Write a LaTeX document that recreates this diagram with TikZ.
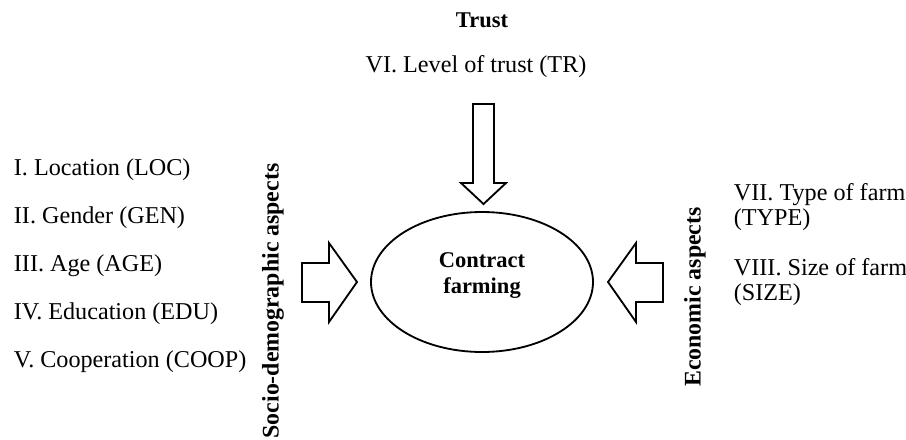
\documentclass[tikz,border=0pt]{standalone}
\usepackage{fontspec}
\setmainfont{Liberation Serif}
\usetikzlibrary{shapes.geometric}
\begin{document}
\begin{tikzpicture}[x=0.6pt, y=-0.6pt, line width=1.1pt,
    item/.style={anchor=base west, inner sep=0pt, align=left, font=\fontsize{14.5}{15}\selectfont},
    head/.style={inner sep=0pt, align=center, font=\fontsize{13.5}{15.6}\selectfont\bfseries},
    aspect/.style={inner sep=0pt, rotate=90, font=\fontsize{14.3}{16}\selectfont\bfseries}]
    \useasboundingbox (0,0) rectangle (906,439);

    \node (trust) at (482, 20) [head] {Trust};
    \node (tr) at (476, 72) [item, anchor=base] {VI. Level of trust (TR)};
    \node (cf) at (482, 282) [draw, shape=ellipse, inner sep=0pt,
        minimum width=133.2pt, minimum height=84pt] {};
    \node (cftext) at (482, 276) [head] {Contract\\farming};

    \foreach \txt [count=\i] in {I. Location (LOC), II. Gender (GEN), III. Age (AGE),
        IV. Education (EDU), V. Cooperation (COOP)}
        \node (l\i) at (13, 127+48*\i) [item] {\txt};

    \node (socio) at (273, 301) [aspect] {Socio-demographic aspects};
    \node (econ) at (695, 297) [aspect] {Economic aspects};

    \node (type) at (733, 225) [item] {VII. Type of farm\\(TYPE)};
    \node (size) at (733, 300) [item] {VIII. Size of farm\\(SIZE)};

    % block arrows
    \draw (473,104) -- (494,104) -- (494,183) -- (506,183) -- (483.5,204)
        -- (461,183) -- (473,183) -- cycle;
    \draw (302,263) -- (329,263) -- (329,243) -- (357,282) -- (329,322)
        -- (329,302) -- (302,302) -- cycle;
    \draw (663,263) -- (636,263) -- (636,243) -- (608,282) -- (636,322)
        -- (636,302) -- (663,302) -- cycle;
\end{tikzpicture}
\end{document}
